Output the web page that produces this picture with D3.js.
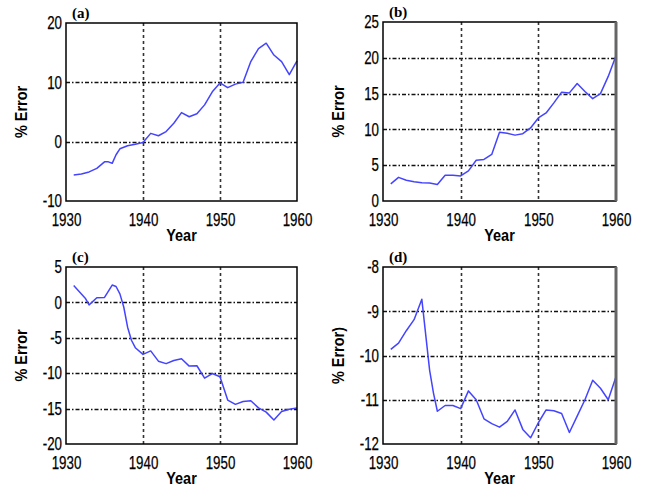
<!DOCTYPE html>
<html><head><meta charset="utf-8">
<script src="https://cdn.jsdelivr.net/npm/d3@7"></script>
<style>
html,body{margin:0;padding:0;background:#fff;}
svg{display:block;}
</style></head>
<body>
<svg id="chart" width="645" height="491"></svg>
<script>
// ---------- data ----------
const xTicks = [1930, 1940, 1950, 1960];

const yearsA = [1931,1932,1933,1934,1935,1935.5,1936,1936.5,1937,1938,1939,1940,1941,1942,1943,1944,1945,1946,1947,1948,1949,1950,1951,1952,1953,1954,1955,1956,1957,1958,1959,1960];
const errorA = [-5.6,-5.45,-5.1,-4.5,-3.4,-3.4,-3.65,-2.2,-1.2,-0.7,-0.45,-0.15,1.4,1.0,1.7,3.1,4.9,4.2,4.7,6.2,8.4,9.9,9.1,9.7,10.0,13.5,15.7,16.6,14.6,13.5,11.3,13.6];
const yTicksA = [-10, 0, 10, 20];

const yearsB = [1931,1932,1933,1934,1935,1936,1937,1938,1939,1940,1941,1942,1943,1944,1945,1946,1947,1948,1949,1950,1951,1952,1953,1954,1955,1956,1957,1958,1959,1960];
const errorB = [2.4,3.3,2.9,2.7,2.55,2.5,2.3,3.6,3.6,3.5,4.2,5.7,5.8,6.5,9.6,9.45,9.2,9.4,10.2,11.6,12.3,13.7,15.2,15.1,16.4,15.3,14.3,15.0,17.4,20.3];
const yTicksB = [0, 5, 10, 15, 20, 25];

const yearsC = [1931,1932,1932.5,1933,1934,1935,1936,1936.5,1937,1937.5,1938,1938.5,1939,1940,1941,1942,1943,1944,1945,1946,1947,1948,1949,1950,1951,1952,1953,1954,1955,1956,1957,1958,1959,1960];
const errorC = [2.4,1.2,0.6,-0.35,0.65,0.7,2.45,2.25,1.2,-0.65,-3.5,-5.35,-6.4,-7.35,-6.85,-8.3,-8.65,-8.2,-7.95,-9.0,-8.95,-10.7,-10.05,-10.5,-13.8,-14.4,-14.0,-13.9,-14.9,-15.5,-16.6,-15.4,-15.1,-14.9];
const yTicksC = [-20, -15, -10, -5, 0, 5];

const yearsD = [1931,1932,1933,1934,1935,1936,1936.5,1937,1938,1939,1940,1941,1942,1943,1944,1945,1946,1947,1948,1949,1950,1951,1952,1953,1954,1955,1956,1957,1958,1959,1960];
const errorD = [-9.86,-9.72,-9.44,-9.19,-8.73,-10.33,-10.85,-11.26,-11.13,-11.13,-11.2,-10.8,-11.0,-11.43,-11.54,-11.62,-11.49,-11.23,-11.67,-11.86,-11.52,-11.23,-11.25,-11.31,-11.74,-11.37,-11.0,-10.56,-10.74,-11.0,-10.48];
const yTicksD = [-12, -11, -10, -9, -8];

const panelLabels = ["(a)", "(b)", "(c)", "(d)"];
const yLabels = ["% Error", "% Error", "% Error", "% Error)"];
const xLabel = "Year";

// ---------- layout ----------
const panels = [
  {years: yearsA, vals: errorA, yt: yTicksA, box: {l: 66, r: 297, t: 23, b: 201}, grayRight: false},
  {years: yearsB, vals: errorB, yt: yTicksB, box: {l: 383, r: 616, t: 22, b: 201}, grayRight: true},
  {years: yearsC, vals: errorC, yt: yTicksC, box: {l: 66, r: 297, t: 267, b: 444}, grayRight: false},
  {years: yearsD, vals: errorD, yt: yTicksD, box: {l: 383, r: 616, t: 267, b: 444}, grayRight: true}
];

const svg = d3.select("#chart");
const FONT = "'Liberation Sans', Arial, sans-serif";
const fmt = d => String(d);

function squeeze(sel, f) {
  sel.each(function() {
    const w = this.getComputedTextLength();
    d3.select(this).attr("textLength", w * f).attr("lengthAdjust", "spacingAndGlyphs");
  });
}

panels.forEach((p, i) => {
  const b = p.box;
  const x = d3.scaleLinear().domain([xTicks[0], xTicks[xTicks.length - 1]]).range([b.l, b.r]);
  const y = d3.scaleLinear().domain([p.yt[0], p.yt[p.yt.length - 1]]).range([b.b, b.t]);
  const g = svg.append("g");

  // horizontal grid (dash-dot)
  g.selectAll(".hg").data(p.yt.slice(1, -1)).enter().append("line")
    .attr("x1", b.l).attr("x2", b.r)
    .attr("y1", d => Math.round(y(d)) + 0.5).attr("y2", d => Math.round(y(d)) + 0.5)
    .attr("stroke", "#111").attr("stroke-width", 1.3)
    .attr("stroke-dasharray", "4,2,1.5,2");
  // vertical grid (dashed)
  g.selectAll(".vg").data(xTicks.slice(1, -1)).enter().append("line")
    .attr("x1", d => Math.round(x(d)) + 0.5).attr("x2", d => Math.round(x(d)) + 0.5)
    .attr("y1", b.t).attr("y2", b.b)
    .attr("stroke", "#333").attr("stroke-width", 1.6)
    .attr("stroke-dasharray", "3,3");

  // data line
  const line = d3.line().x((d, k) => x(p.years[k])).y(d => y(d));
  g.append("path").datum(p.vals).attr("d", line)
    .attr("fill", "none").attr("stroke", "#4444ff").attr("stroke-width", 1.5)
    .attr("stroke-linejoin", "round");

  // frame
  g.append("rect").attr("x", b.l).attr("y", b.t).attr("width", b.r - b.l).attr("height", b.b - b.t)
    .attr("fill", "none").attr("stroke", "#000").attr("stroke-width", 1.5);
  if (p.grayRight) {
    g.append("line").attr("x1", b.r).attr("x2", b.r).attr("y1", b.t).attr("y2", b.b)
      .attr("stroke", "#666").attr("stroke-width", 3);
  }

  // axes (labels only, no tick marks)
  const xa = g.append("g").attr("transform", `translate(0,${b.b})`)
    .call(d3.axisBottom(x).tickValues(xTicks).tickFormat(fmt).tickSize(0).tickPadding(12));
  const ya = g.append("g").attr("transform", `translate(${b.l},0)`)
    .call(d3.axisLeft(y).tickValues(p.yt).tickFormat(fmt).tickSize(0).tickPadding(4));
  [xa, ya].forEach(a => {
    a.select(".domain").remove();
    a.selectAll("text").attr("font-family", FONT).attr("font-size", 18).attr("fill", "#000")
      .attr("stroke", "#000").attr("stroke-width", 0.25);
  });
  squeeze(xa.selectAll("text"), 0.74);
  squeeze(ya.selectAll("text"), 0.74);

  // axis titles
  const xt = g.append("text").attr("x", (b.l + b.r) / 2).attr("y", b.b + 40)
    .attr("text-anchor", "middle").attr("font-family", FONT).attr("font-size", 17)
    .attr("font-weight", "bold").text(xLabel);
  squeeze(xt, 0.85);
  const yt = g.append("text")
    .attr("transform", `translate(${b.l - 39},${(b.t + b.b) / 2}) rotate(-90)`)
    .attr("text-anchor", "middle").attr("font-family", FONT).attr("font-size", 17)
    .attr("font-weight", "bold").text(yLabels[i]);
  squeeze(yt, 0.85);

  // panel label
  g.append("text").attr("x", b.l + 6).attr("y", b.t - 5)
    .attr("font-family", "'Liberation Serif', 'Times New Roman', serif")
    .attr("font-size", 15).attr("font-weight", "bold").text(panelLabels[i]);
});
</script>
</body></html>
